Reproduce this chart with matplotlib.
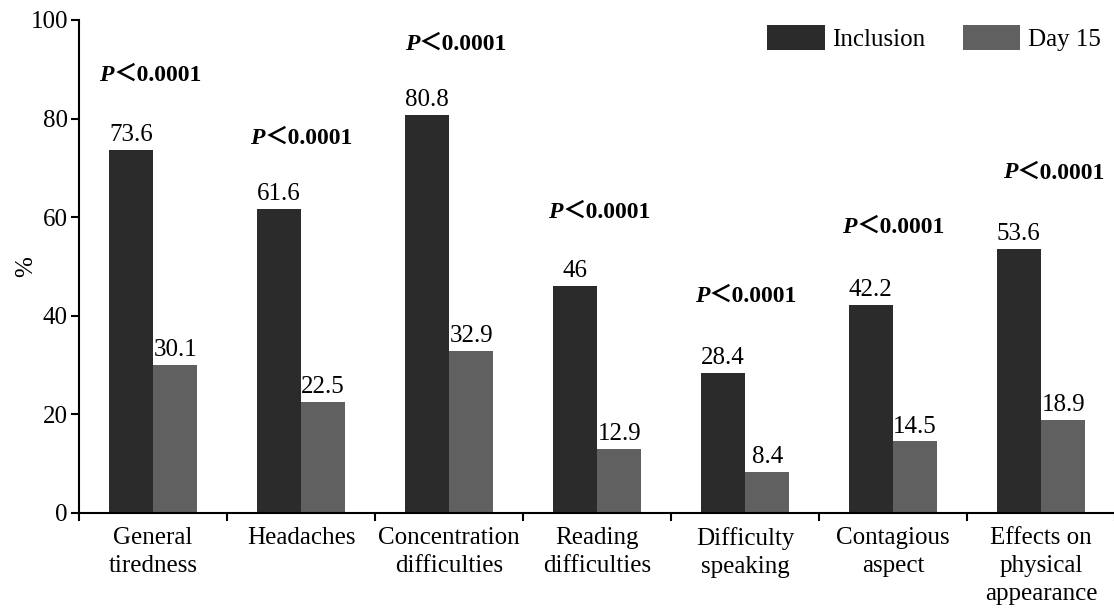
import matplotlib.pyplot as plt
import numpy as np

plt.rcParams['font.family'] = ['Liberation Serif', 'DejaVu Serif']

categories = ['General\ntiredness', 'Headaches', 'Concentration\ndifficulties',
              'Reading\ndifficulties', 'Difficulty\nspeaking', 'Contagious\naspect',
              'Effects on\nphysical\nappearance']
inclusion = [73.6, 61.6, 80.8, 46, 28.4, 42.2, 53.6]
day15 = [30.1, 22.5, 32.9, 12.9, 8.4, 14.5, 18.9]
inclusion_labels = ['73.6', '61.6', '80.8', '46', '28.4', '42.2', '53.6']
day15_labels = ['30.1', '22.5', '32.9', '12.9', '8.4', '14.5', '18.9']

fig = plt.figure(figsize=(11.14, 6.11), dpi=100)
ax = fig.add_axes([0.0709, 0.1604, 0.930, 0.807])

x = np.arange(len(categories))
w = 0.3
ax.bar(x - w / 2, inclusion, w, color='#2b2b2b', label='Inclusion')
ax.bar(x + w / 2, day15, w, color='#5f605f', label='Day 15')

for i in range(len(categories)):
    ax.text(x[i] - w / 2, inclusion[i] + 0.8, inclusion_labels[i], ha='center', va='bottom', fontsize=18)
    ax.text(x[i] + w / 2, day15[i] + 0.8, day15_labels[i], ha='center', va='bottom', fontsize=18)

# p-value annotations (placed by hand like the original)
p_x = [-0.365, -0.345, -0.30, -0.33, -0.34, -0.345, -0.26]
p_y = [88.8, 76.0, 95.0, 60.9, 44.0, 58.0, 69.0]
for i in range(len(categories)):
    tp = ax.text(x[i] + p_x[i], p_y[i], 'P', ha='left', va='center', fontsize=17,
                 fontweight='bold', style='italic')
    ax.annotate('\uff1c0.0001', xy=(1, 0), xycoords=tp, ha='left', va='bottom',
                fontsize=17, fontweight='bold',
                family=['Liberation Serif', 'Noto Sans CJK SC', 'DejaVu Serif'])

ax.set_xlim(-0.5, len(categories) - 0.5)
ax.set_ylim(0, 100)
ax.set_yticks(np.arange(0, 101, 20))
ax.set_xticks(np.arange(-0.5, len(categories), 1), minor=False)
ax.set_xticklabels([''] * (len(categories) + 1))
ax.set_xticks(x, minor=True)
ax.set_xticklabels(categories, minor=True, fontsize=18, linespacing=1.35)
ax.tick_params(axis='x', which='minor', length=0, pad=10)
ax.tick_params(axis='x', which='major', length=6, width=1.5)
ax.tick_params(axis='y', length=6, width=1.5, labelsize=18, pad=2)
ax.set_ylabel('%', fontsize=18)
ax.yaxis.set_label_coords(-0.04, 0.5)

for s in ['top', 'right']:
    ax.spines[s].set_visible(False)
for s in ['left', 'bottom']:
    ax.spines[s].set_linewidth(1.5)

ax.legend(loc='upper right', bbox_to_anchor=(0.996, 1.01), ncol=2, frameon=False, fontsize=18,
          handlelength=2.3, handleheight=1.15, columnspacing=1.5, handletextpad=0.3,
          borderaxespad=0)

plt.savefig('out.png', dpi=100)
